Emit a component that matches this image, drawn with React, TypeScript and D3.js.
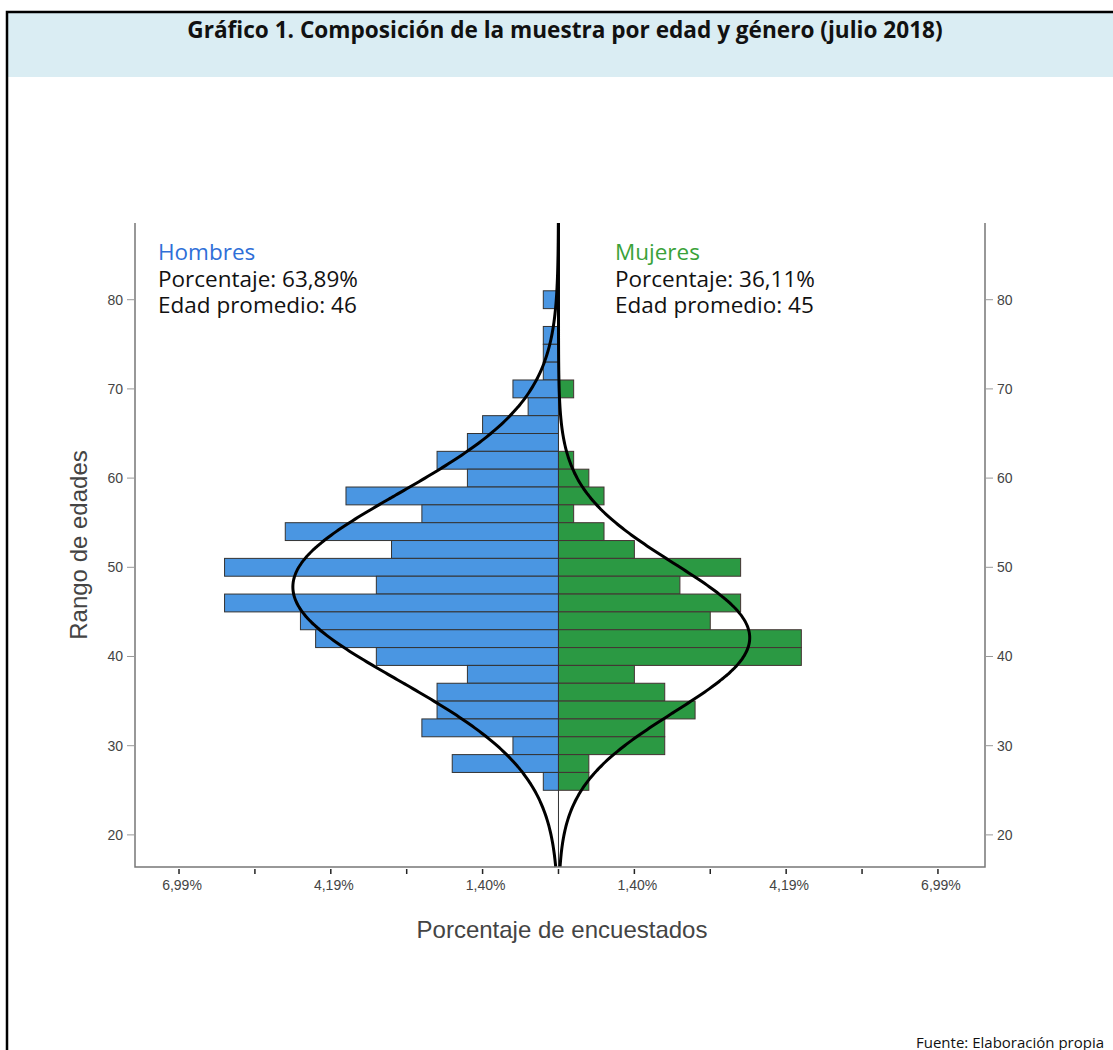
import { useEffect, useRef } from "react"
import * as d3 from "d3"

// age bins (centre of each 2-year bin), counts
const ages = [80, 78, 76, 74, 72, 70, 68, 66, 64, 62, 60, 58, 56, 54, 52, 50, 48, 46, 44, 42, 40, 38, 36, 34, 32, 30, 28, 26]
const hombres = [1, 0, 1, 1, 1, 3, 2, 5, 6, 8, 6, 14, 9, 18, 11, 22, 12, 22, 17, 16, 12, 6, 8, 8, 9, 3, 7, 1]
const mujeres = [0, 0, 0, 0, 0, 1, 0, 0, 0, 1, 2, 3, 1, 3, 5, 12, 8, 12, 10, 16, 16, 5, 7, 9, 7, 7, 2, 2]

const yTicks = [20, 30, 40, 50, 60, 70, 80]
const xTickValues = [-25, -20, -15, -10, -5, 0, 5, 10, 15, 20, 25]
const xTickLabels = ["6,99%", "", "4,19%", "", "1,40%", "", "1,40%", "", "4,19%", "", "6,99%"]

// fitted normal curves (mean, sd, peak height in counts)
const curveHombres = { mean: 47.8, sd: 10.4, peak: 17.5 }
const curveMujeres = { mean: 42.1, sd: 8.3, peak: 12.6 }

const infoHombres = ["Hombres", "Porcentaje: 63,89%", "Edad promedio: 46"]
const infoMujeres = ["Mujeres", "Porcentaje: 36,11%", "Edad promedio: 45"]

const BLUE = "#4a96e2"
const GREEN = "#2b9943"

export default function App() {
  const svgRef = useRef<SVGSVGElement>(null)

  useEffect(() => {
    if (!svgRef.current) return
    const svg = d3.select(svgRef.current)
    svg.selectAll("*").remove()

    const width = 1113
    const height = 1050
    const plot = { left: 135, right: 985, top: 223, bottom: 867 }

    // page frame + title band
    svg.append("rect").attr("x", 0).attr("y", 0).attr("width", width).attr("height", height).attr("fill", "white")
    svg.append("rect").attr("x", 7).attr("y", 12).attr("width", width).attr("height", 65).attr("fill", "#daedf3")
    svg.append("path")
      .attr("d", `M7,${height}V12H${width}`)
      .attr("fill", "none")
      .attr("stroke", "black")
      .attr("stroke-width", 2.5)

    svg.append("text")
      .attr("x", 565)
      .attr("y", 38)
      .attr("text-anchor", "middle")
      .attr("font-family", "'Open Sans', Lato, sans-serif")
      .attr("font-weight", "bold")
      .attr("font-size", 22.6)
      .attr("fill", "#111")
      .text("Gráfico 1. Composición de la muestra por edad y género (julio 2018)")

    const x = d3.scaleLinear().domain([-27.9, 28.1]).range([plot.left, plot.right])
    const y = d3.scaleLinear().domain([16.4, 88.6]).range([plot.bottom, plot.top])

    const g = svg.append("g")

    // bars
    const bw = 1 // half-width of bin in years
    g.selectAll("rect.h")
      .data(ages.map((a, i) => ({ a, v: hombres[i] })).filter((d) => d.v > 0))
      .join("rect")
      .attr("x", (d) => x(-d.v))
      .attr("y", (d) => y(d.a + bw))
      .attr("width", (d) => x(0) - x(-d.v))
      .attr("height", (d) => y(d.a - bw) - y(d.a + bw))
      .attr("fill", BLUE)
      .attr("stroke", "#333")
      .attr("stroke-width", 1)

    g.selectAll("rect.m")
      .data(ages.map((a, i) => ({ a, v: mujeres[i] })).filter((d) => d.v > 0))
      .join("rect")
      .attr("x", x(0))
      .attr("y", (d) => y(d.a + bw))
      .attr("width", (d) => x(d.v) - x(0))
      .attr("height", (d) => y(d.a - bw) - y(d.a + bw))
      .attr("fill", GREEN)
      .attr("stroke", "#433")
      .attr("stroke-width", 1)

    // centre line
    g.append("line")
      .attr("x1", x(0)).attr("x2", x(0))
      .attr("y1", plot.top).attr("y2", plot.bottom)
      .attr("stroke", "#333")
      .attr("stroke-width", 1)

    // normal curves
    const agesFine = d3.range(16.4, 88.61, 0.2)
    const normal = (c: typeof curveHombres, a: number) =>
      c.peak * Math.exp(-((a - c.mean) ** 2) / (2 * c.sd * c.sd))
    const line = d3.line<[number, number]>().x((d) => d[0]).y((d) => d[1]).curve(d3.curveBasis)

    g.append("path")
      .attr("d", line(agesFine.map((a) => [x(-normal(curveHombres, a)), y(a)])) as string)
      .attr("fill", "none")
      .attr("stroke", "black")
      .attr("stroke-width", 3)

    g.append("path")
      .attr("d", line(agesFine.map((a) => [x(normal(curveMujeres, a)), y(a)])) as string)
      .attr("fill", "none")
      .attr("stroke", "black")
      .attr("stroke-width", 3)

    // frame (left, bottom, right)
    svg.append("path")
      .attr("d", `M${plot.left},${plot.top}V${plot.bottom}H${plot.right}V${plot.top}`)
      .attr("fill", "none")
      .attr("stroke", "#777")
      .attr("stroke-width", 1.5)

    // y axes
    const axisFont = "'Liberation Sans', Arial, sans-serif"
    yTicks.forEach((t) => {
      svg.append("line").attr("x1", plot.left - 8).attr("x2", plot.left).attr("y1", y(t)).attr("y2", y(t)).attr("stroke", "#999")
      svg.append("line").attr("x1", plot.right).attr("x2", plot.right + 8).attr("y1", y(t)).attr("y2", y(t)).attr("stroke", "#999")
      svg.append("text")
        .attr("x", plot.left - 12).attr("y", y(t) + 5)
        .attr("text-anchor", "end")
        .attr("font-family", axisFont).attr("font-size", 14).attr("fill", "#444")
        .text(t)
      svg.append("text")
        .attr("x", plot.right + 12).attr("y", y(t) + 5)
        .attr("text-anchor", "start")
        .attr("font-family", axisFont).attr("font-size", 14).attr("fill", "#444")
        .text(t)
    })

    // x axis
    xTickValues.forEach((t, i) => {
      svg.append("line")
        .attr("x1", x(t)).attr("x2", x(t))
        .attr("y1", plot.bottom + 2).attr("y2", plot.bottom + 7)
        .attr("stroke", "#222").attr("stroke-width", 1.5)
      if (xTickLabels[i])
        svg.append("text")
          .attr("x", x(t) + 3).attr("y", plot.bottom + 23)
          .attr("text-anchor", "middle")
          .attr("font-family", axisFont).attr("font-size", 14).attr("fill", "#444")
          .text(xTickLabels[i])
    })

    svg.append("text")
      .attr("x", 562).attr("y", 938)
      .attr("text-anchor", "middle")
      .attr("font-family", axisFont).attr("font-size", 24).attr("fill", "#444")
      .text("Porcentaje de encuestados")

    svg.append("text")
      .attr("transform", `translate(87,545) rotate(-90)`)
      .attr("text-anchor", "middle")
      .attr("font-family", axisFont).attr("font-size", 24).attr("fill", "#444")
      .text("Rango de edades")

    // annotations
    const annFont = "'Open Sans', Lato, sans-serif"
    const addInfo = (lines: string[], x0: number, color: string) => {
      lines.forEach((s, i) => {
        svg.append("text")
          .attr("x", x0).attr("y", 260 + i * 26.5)
          .attr("font-family", annFont).attr("font-size", 22.5)
          .attr("fill", i === 0 ? color : "#111")
          .text(s)
      })
    }
    addInfo(infoHombres, 158, "#2f6fd8")
    addInfo(infoMujeres, 615, "#3aa23a")

    svg.append("text")
      .attr("x", 916).attr("y", 1048)
      .attr("font-family", annFont).attr("font-size", 15).attr("fill", "#111")
      .text("Fuente: Elaboración propia")
  }, [])

  return (
    <div style={{ position: "absolute", left: 0, top: 0 }}>
      <svg ref={svgRef} width={1113} height={1050} style={{ display: "block" }} />
    </div>
  )
}
